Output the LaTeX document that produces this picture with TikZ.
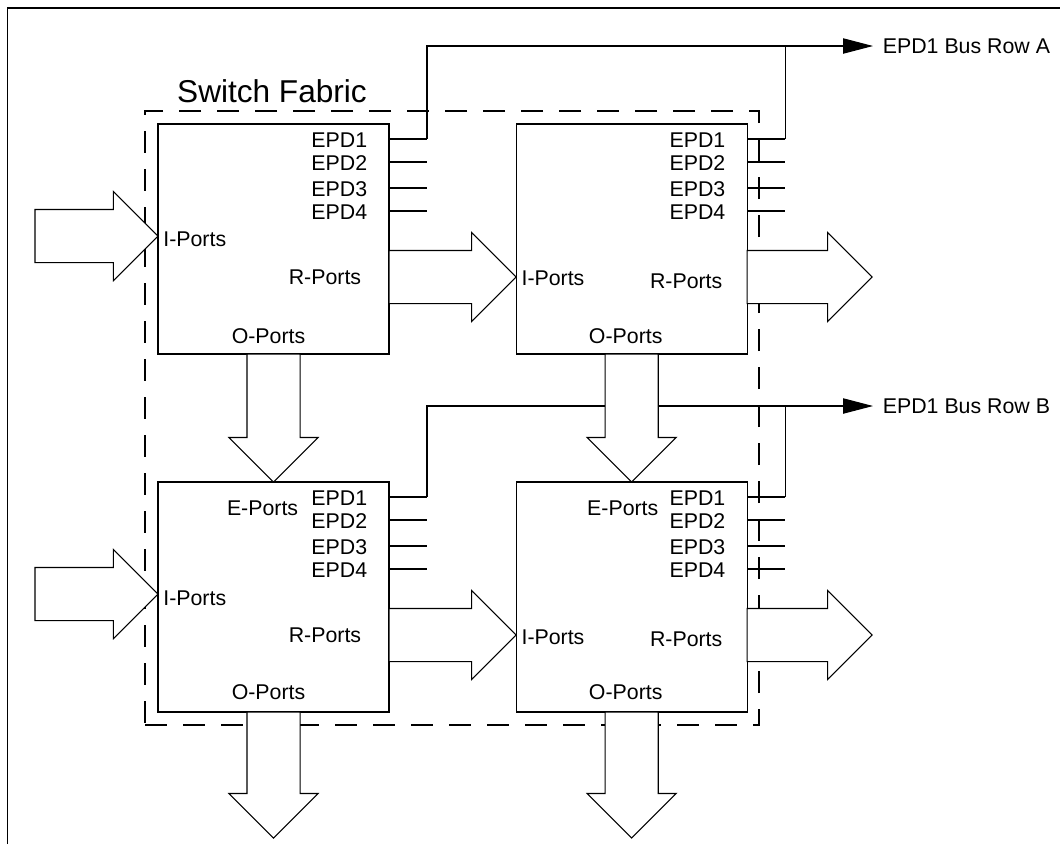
\documentclass[tikz,border=0pt]{standalone}
\usepackage{fontspec}
\setmainfont{Liberation Sans}
\usepackage{tikz}
\usetikzlibrary{positioning, arrows.meta, shapes.arrows, calc}

\begin{document}
\begin{tikzpicture}[
  x=0.75pt, y=-0.75pt, line width=0.8pt,
  block/.style={
    rectangle, draw, fill=white, minimum width=173.25pt, minimum height=172.5pt,
    inner sep=0pt, outer sep=0pt
  },
  fabricbox/.style={
    rectangle, draw, dash pattern=on 16.5pt off 12pt, minimum width=460.5pt,
    minimum height=460.5pt, inner sep=0pt, outer sep=0pt
  },
  fatarrow/.style={
    single arrow, draw, fill=white, single arrow head extend=13.5pt,
    single arrow tip angle=90, inner xsep=0pt, inner ysep=19.5pt, outer sep=0pt
  },
  lbl/.style={font=\fontsize{16}{18}\selectfont, inner sep=1pt},
  bus/.style={-{Triangle[length=22.5pt, width=11.5pt]}}
]
\useasboundingbox (0,0) rectangle (1060,844);

% ==================== FRAME ====================
\draw (7.5,844) |- (1060,8);

% Switch fabric outline
\node[fabricbox] (fabric) at (452,418) {};
\node[font=\fontsize{23.7}{28}\selectfont, anchor=base, inner sep=0pt] (title) at (272,102) {Switch Fabric};

% ==================== SWITCHES ====================
\node[block] (tl) at (273.5,239) {};
\node[block] (tr) at (631.7,239) {};
\node[block] (bl) at (273.5,597) {};
\node[block] (br) at (631.7,597) {};

% EPD ports of every switch
\foreach \b in {tl,tr,bl,br}{
  \foreach \n/\d in {1/15,2/38,3/64,4/87}{
    \node[lbl, anchor=east] (\b-epd\n) at ($(\b.north east)+(-20,\d+1)$) {EPD\n};
    \draw (\b.north east) ++(0,\d) coordinate (\b-p\n) -- ++(38,0) coordinate (\b-q\n);
  }
}

% Port labels
\node[lbl, anchor=west] (tl-in) at ($(tl.west)+(3.5,0)$) {I-Ports};
\node[lbl, anchor=west] (bl-in) at ($(bl.west)+(3.5,1)$) {I-Ports};
\node[lbl, anchor=west] (tr-in) at ($(tr.west)+(3.5,39)$) {I-Ports};
\node[lbl, anchor=west] (br-in) at ($(br.west)+(3.5,40)$) {I-Ports};

\node[lbl, anchor=east] (tl-r) at ($(tl.east)+(-26,38)$) {R-Ports};
\node[lbl, anchor=east] (bl-r) at ($(bl.east)+(-26,38)$) {R-Ports};
\node[lbl, anchor=east] (tr-r) at ($(tr.east)+(-23,42)$) {R-Ports};
\node[lbl, anchor=east] (br-r) at ($(br.east)+(-23,42)$) {R-Ports};

\node[lbl] (tl-o) at ($(tl.south)+(-5,-18)$) {O-Ports};
\node[lbl] (tr-o) at ($(tr.south)+(-6,-18)$) {O-Ports};
\node[lbl] (bl-o) at ($(bl.south)+(-5,-20)$) {O-Ports};
\node[lbl] (br-o) at ($(br.south)+(-6,-20)$) {O-Ports};

\node[lbl, anchor=east] (bl-e) at ($(bl.north east)+(-89,26)$) {E-Ports};
\node[lbl, anchor=east] (br-e) at ($(br.north east)+(-87,26)$) {E-Ports};

% ==================== EPD1 BUSES ====================
\coordinate (busA) at (873,46);
\coordinate (busB) at (873,406);
\draw[bus] (tl-q1) |- (busA);
\draw (tr-q1) -- (tr-q1 |- busA);
\node[lbl, right=6pt of busA] (busA-lbl) {EPD1 Bus Row A};

\draw[bus] (bl-q1) |- (busB);
\draw (br-q1) -- (br-q1 |- busB);
\node[lbl, right=6pt of busB] (busB-lbl) {EPD1 Bus Row B};

% ==================== BLOCK ARROWS ====================
% inputs
\node[fatarrow, minimum height=92.25pt, anchor=tip] (tl-inarr) at ($(tl.west)+(0,-3)$) {};
\node[fatarrow, minimum height=92.25pt, anchor=tip] (bl-inarr) at ($(bl.west)+(0,-3)$) {};

% R-Ports to I-Ports
\node[fatarrow, minimum height=95.25pt, anchor=tip] (tl-tr) at ($(tr.west)+(0,38)$) {};
\node[fatarrow, minimum height=95.25pt, anchor=tip] (bl-br) at ($(br.west)+(0,38)$) {};
\node[fatarrow, minimum height=93.75pt, anchor=tail] (tr-out) at ($(tr.east)+(0,38)$) {};
\node[fatarrow, minimum height=93.75pt, anchor=tail] (br-out) at ($(br.east)+(0,38)$) {};

% O-Ports
\node[fatarrow, rotate=-90, minimum height=96pt, anchor=tail] (tl-bl) at (tl.south) {};
\node[fatarrow, rotate=-90, minimum height=96pt, anchor=tail] (tr-br) at (tr.south) {};
\node[fatarrow, rotate=-90, minimum height=94.5pt, anchor=tail] (bl-out) at (bl.south) {};
\node[fatarrow, rotate=-90, minimum height=94.5pt, anchor=tail] (br-out2) at (br.south) {};
\end{tikzpicture}
\end{document}
